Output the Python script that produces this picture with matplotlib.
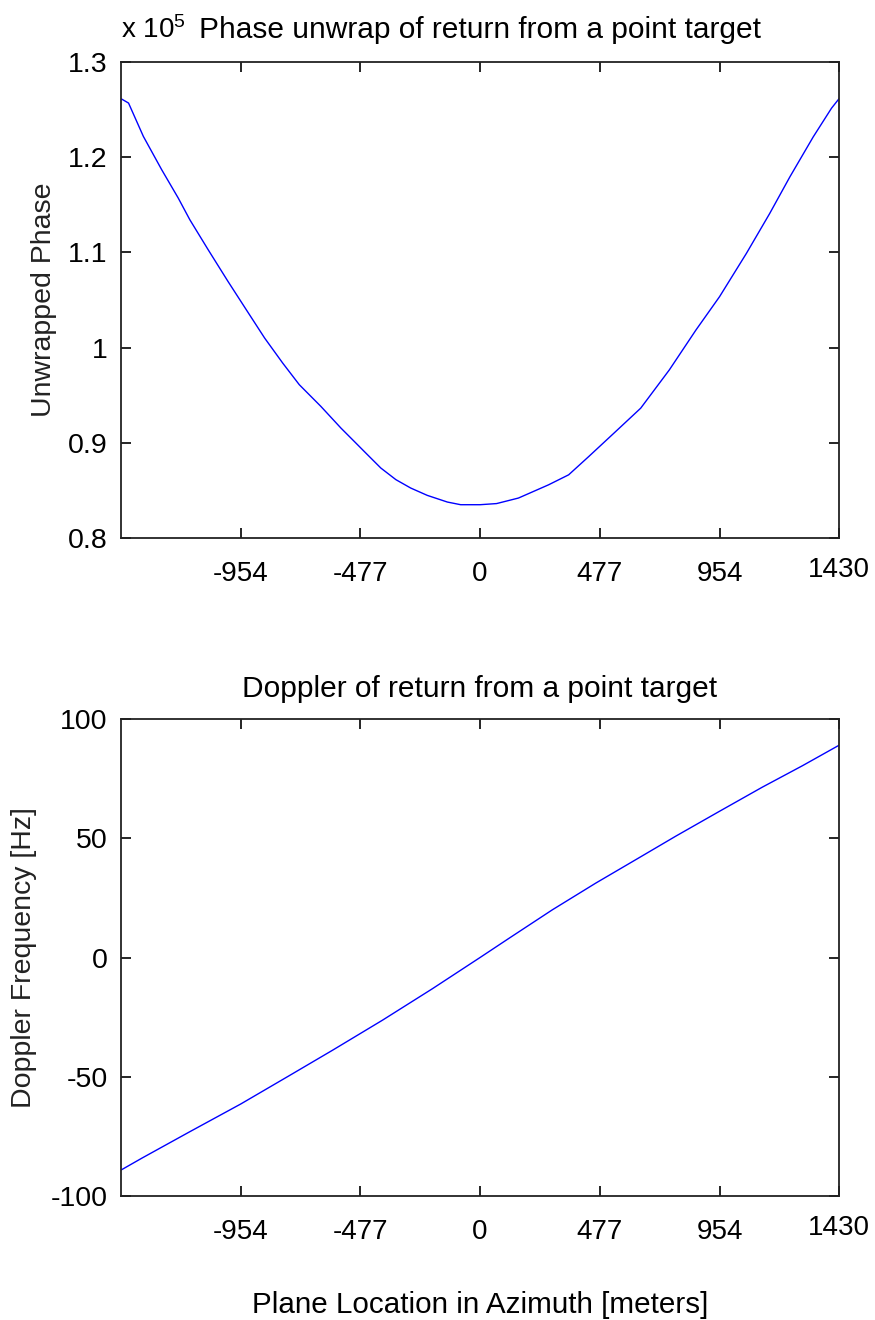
import matplotlib
matplotlib.use("Agg")
import matplotlib.pyplot as plt
import matplotlib.transforms as mtransforms

plt.rcParams['font.family'] = ['Liberation Sans', 'DejaVu Sans']
plt.rcParams['mathtext.fontset'] = 'custom'
plt.rcParams['mathtext.rm'] = 'Liberation Sans'
plt.rcParams['mathtext.it'] = 'Liberation Sans'

# azimuth positions [m] and unwrapped phase (x 10^5)
x_phase = [-1430, -1400, -1341, -1268, -1202, -1156, -1083, -1004, -931, -858, -786,
           -720, -634, -554, -501, -455, -395, -335, -276, -210, -130, -77, 0,
           66, 153, 273, 353, 433, 540, 640, 754, 860, 954, 1061, 1154, 1234, 1327,
           1400, 1430]
phase = [1.2615, 1.2569, 1.2219, 1.1869, 1.1571, 1.1344, 1.1029, 1.0696, 1.0398,
         1.0101, 0.9838, 0.9611, 0.9383, 0.9155, 0.9015, 0.8893, 0.8735, 0.8613,
         0.8525, 0.8448, 0.8378, 0.835, 0.835,
         0.8362, 0.842, 0.8559, 0.8664, 0.8856, 0.9118, 0.9364, 0.9766, 1.0185,
         1.0535, 1.099, 1.141, 1.1793, 1.2213, 1.2515, 1.2615]

# azimuth positions [m] and doppler frequency [Hz]
x_dop = [-1430, -1345, -1159, -953, -761, -588, -389, -190, 0, 116, 288, 461, 620,
         780, 952, 1124, 1284, 1430]
doppler = [-89.1, -84.0, -73.2, -61.4, -49.6, -38.9, -26.3, -13.1, 0, 8.1, 20.0,
           31.2, 41.0, 50.9, 61.2, 71.4, 80.4, 89.0]

xticks = [-954, -477, 0, 477, 954, 1430]
xticklabels = ['-954', '-477', '0', '477', '954', '1430']
phase_ticks = [0.8, 0.9, 1.0, 1.1, 1.2, 1.3]
phase_ticklabels = ['0.8', '0.9', '1', '1.1', '1.2', '1.3']
dop_ticks = [-100, -50, 0, 50, 100]
dop_ticklabels = ['-100', '-50', '0', '50', '100']

fig = plt.figure(figsize=(8.75, 13.2), dpi=100)
ax1 = fig.add_axes([0.1383, 0.5924, 0.8206, 0.3606])
ax2 = fig.add_axes([0.1383, 0.0939, 0.8206, 0.3614])


def style_axes(ax):
    ax.set_xlim(-1430, 1430)
    ax.set_xticks(xticks)
    ax.set_xticklabels(xticklabels)
    ax.tick_params(axis='both', direction='in', length=7, width=1.2,
                   top=True, right=True, colors='black')
    ax.tick_params(axis='x', labelsize=20, pad=16.5)
    ax.tick_params(axis='y', labelsize=20.5, pad=9.5)
    for sp in ax.spines.values():
        sp.set_linewidth(1.3)
        sp.set_color('#222222')
    # the last label sits a bit higher
    lab = ax.get_xticklabels()[-1]
    lab.set_transform(lab.get_transform() +
                      mtransforms.ScaledTranslation(0, 4 / 100, fig.dpi_scale_trans))


ax1.plot(x_phase, phase, color='#0000ff', lw=1.0)
style_axes(ax1)
ax1.set_ylim(0.8, 1.3)
ax1.set_yticks(phase_ticks)
ax1.set_yticklabels(phase_ticklabels)
ax1.set_ylabel('Unwrapped Phase', fontsize=20.5, labelpad=8, color='#222222')
ax1.set_title('Phase unwrap of return from a point target', fontsize=21.5, pad=17)
ax1.annotate(r'x 10$^{5}$', xy=(0, 1), xycoords='axes fraction', xytext=(0, 17),
             textcoords='offset points', ha='left', va='baseline', fontsize=20)

ax2.plot(x_dop, doppler, color='#0000ff', lw=1.0)
style_axes(ax2)
ax2.set_ylim(-100, 100)
ax2.set_yticks(dop_ticks)
ax2.set_yticklabels(dop_ticklabels)
ax2.set_ylabel('Doppler Frequency [Hz]', fontsize=20.5, labelpad=10, color='#222222')
ax2.set_title('Doppler of return from a point target', fontsize=21.5, pad=16)
ax2.set_xlabel('Plane Location in Azimuth [meters]', fontsize=21.3, labelpad=33)

fig.savefig('out.png', dpi=100)
